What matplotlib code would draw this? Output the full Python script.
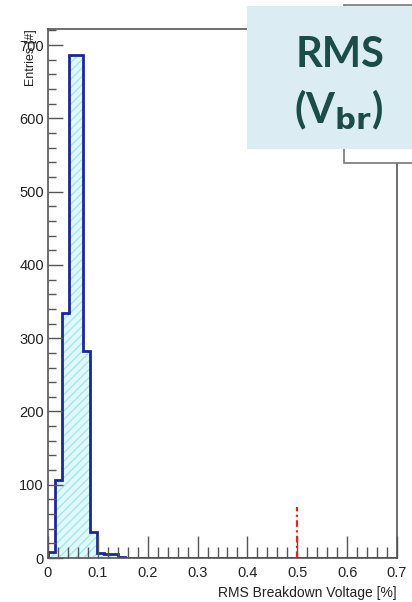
import numpy as np
import matplotlib
matplotlib.use('Agg')
from matplotlib import pyplot as plt
from matplotlib.patches import Rectangle

plt.rcParams.update({'font.family': ['Liberation Sans', 'DejaVu Sans'],
                     'hatch.linewidth': 1.0})

# histogram: 50 bins over 0 .. 0.7
bin_lo = 0.0
bin_hi = 0.7
n_bins = 50
counts = [8, 107, 335, 686, 686, 283, 35, 7, 5, 6, 2] + [0] * 39
edges = np.linspace(bin_lo, bin_hi, n_bins + 1)

# red marker at the 0.5 % limit
limit_x = 0.5
limit_h = 70

x_ticks = [0, 0.1, 0.2, 0.3, 0.4, 0.5, 0.6, 0.7]
x_labels = ['0', '0.1', '0.2', '0.3', '0.4', '0.5', '0.6', '0.7']
y_ticks = [0, 100, 200, 300, 400, 500, 600, 700]
y_labels = ['0', '100', '200', '300', '400', '500', '600', '700']

fig = plt.figure(figsize=(4.12, 6.02), dpi=100)
ax = fig.add_axes([48/412, 44/602, 349/412, 529/602])

ax.stairs(counts, edges, fill=True, facecolor='#e2f9fc', edgecolor='#a2e8f1',
          hatch='////', linewidth=0)
ax.stairs(counts, edges, fill=False, color='#1c2896', linewidth=2)
ax.plot([limit_x, limit_x], [0, limit_h], color='#e8231c', ls=(0, (3, 1.5, 1, 1.5)), lw=1.6)

ax.set_xlim(bin_lo, bin_hi)
ax.set_ylim(0, 722)
ax.set_xticks(x_ticks)
ax.set_xticklabels(x_labels)
ax.set_yticks(y_ticks)
ax.set_yticklabels(y_labels)
ax.set_xticks(np.arange(0, 0.7001, 0.02), minor=True)
ax.set_yticks(np.arange(0, 721, 20), minor=True)
ax.tick_params(axis='x', which='major', direction='in', length=16, width=1, color='#555555',
               labelsize=10.5, pad=6, labelcolor='#222222')
ax.tick_params(axis='x', which='minor', direction='in', length=8, width=1, color='#555555')
ax.tick_params(axis='y', which='major', direction='in', length=11, width=1, color='#555555',
               labelsize=10.5, pad=3, labelcolor='#222222')
ax.tick_params(axis='y', which='minor', direction='in', length=6, width=1, color='#555555')
for s in ax.spines.values():
    s.set_color('#555555')
    s.set_linewidth(1.2)

ax.set_xlabel('RMS Breakdown Voltage [%]', fontsize=10, color='#222222')
ax.xaxis.set_label_coords(1.0, -0.052)
ax.xaxis.label.set_ha('right')
ax.set_ylabel('Entries [#]', fontsize=9, color='#222222')
ax.yaxis.set_label_coords(-0.065, 1.0)
ax.yaxis.label.set_va('top')
ax.yaxis.label.set_ha('right')

# ROOT stats box, mostly hidden
fig.patches.append(Rectangle((344/412, (602-163)/602), 80/412, 158/602,
                             transform=fig.transFigure, facecolor='white',
                             edgecolor='#777777', lw=1.2, zorder=5))

# light blue label box
fig.patches.append(Rectangle((247/412, (602-149)/602), 170/412, 143/602,
                             transform=fig.transFigure, facecolor='#dbedf3',
                             edgecolor='none', zorder=6))
fig.text(340/412, 1 - 55/602, 'RMS', fontsize=30, fontweight='bold', color='#1b4c48',
         ha='center', va='center', family=['Lato', 'DejaVu Sans'], zorder=7)
fig.text(338/412, 1 - 110/602, r'(V$_{\mathbf{br}}$)', fontsize=30, fontweight='bold',
         color='#1b4c48', ha='center', va='center', family=['Lato', 'DejaVu Sans'], zorder=7)

fig.savefig('out.png', dpi=100)
